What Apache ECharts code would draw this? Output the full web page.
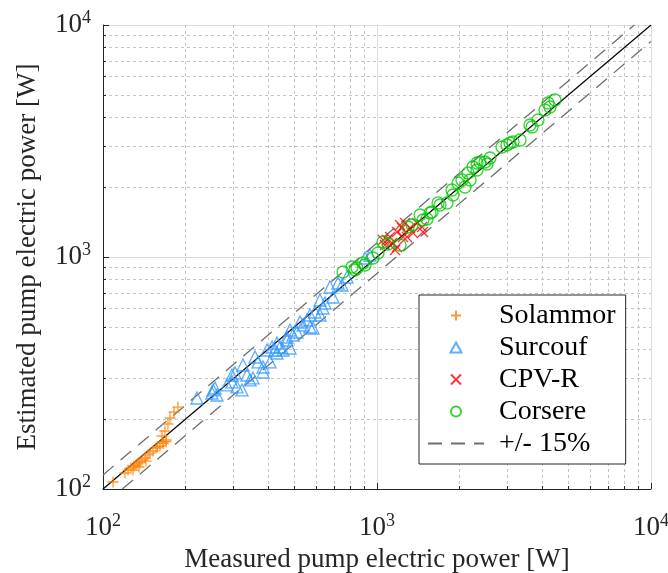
<!DOCTYPE html>
<html><head><meta charset="utf-8">
<script src="https://cdn.jsdelivr.net/npm/echarts@6/dist/echarts.min.js"></script>
<style>html,body{margin:0;padding:0;background:#fff}#c{width:668px;height:573px}</style>
</head><body><div id="c"></div>
<script>
const solammor = [[108.8,107.2],[120.3,117.2],[123.4,120.7],[126.5,123.2],[129.8,125.6],[132.0,126.9],[134.2,129.4],[136.5,130.7],[138.8,133.4],[142.3,136.0],[145.9,140.2],[148.4,142.9],[152.2,145.8],[156.1,150.2],[161.4,153.2],[165.6,159.4],[169.8,162.6],[164.2,169.2],[168.3,177.8],[172.6,190.6],[175.6,202.3],[181.6,214.7],[187.8,225.6],[128.7,120.7],[135.3,124.4],[143.5,132.0],[158,152],[166,157],[170,160]];
const surcouf = [[220.3,246.7],[249.9,259.3],[256.3,272.5],[260.6,254.2],[252.0,267.2],[283.6,280.8],[295.7,289.3],[308.4,275.3],[321.6,267.2],[303.3,316.2],[295.7,310.0],[324.3,342.3],[335.4,310.0],[344.0,295.1],[352.8,301.0],[358.8,370.7],[368.0,352.8],[383.8,335.6],[383.8,319.4],[407.0,352.8],[396.9,397.3],[413.9,409.4],[424.5,397.3],[431.5,426.0],[442.6,409.4],[453.9,397.3],[481.4,405.3],[431.5,385.7],[469.4,452.1],[481.4,484.5],[493.7,461.1],[510.5,475.0],[469.4,438.8],[523.6,524.6],[537.0,509.2],[555.3,535.1],[569.5,499.2],[584.0,494.3],[569.5,562.3],[593.9,579.4],[619.4,562.3],[635.2,602.9],[619.4,652.7],[646.0,633.6],[691.0,672.3],[673.8,742.4],[745.3,757.4],[720.7,772.6],[777.3,820.0],[904.2,990],[943.0,1020]];
const cpvr = [[1069.5,1126.6],[1087.7,1183.8],[1115.5,1219.5],[1134.4,1149.2],[1163.3,1072.0],[1183.0,1104.5],[1183.0,1281.6],[1213.3,1373.8],[1233.8,1333.5],[1244.2,1219.5],[1265.3,1401.6],[1286.7,1219.5],[1319.6,1333.5],[1353.4,1268.8],[1399.6,1401.6],[1459.7,1346.8],[1472.1,1281.6],[1051.7,1183.8]];
const corsere = [[751.5,861.6],[810.5,905.6],[831.2,879.0],[845.3,896.7],[889.1,942.2],[904.2,923.7],[966.9,990.1],[1008.4,1040.4],[1051.7,1160.8],[1096.8,1137.6],[1213.3,1126.6],[1297.6,1346.8],[1342.0,1373.8],[1435.6,1517.1],[1472.1,1443.6],[1522.5,1458.0],[1561.3,1547.8],[1587.8,1563.2],[1670.0,1709.7],[1698.3,1675.8],[1801.2,1709.7],[1878.4,1944.8],[1894.2,1850.3],[1975.6,2084.5],[2043.2,2147.4],[2095.5,2003.3],[2148.8,2301.6],[2185.3,2147.4],[2241.2,2443.2],[2317.4,2542.5],[2317.4,2371.4],[2376.5,2567.8],[2478.7,2567.8],[2520.7,2517.5],[2584.9,2671.2],[2859.0,2979.7],[2982.1,3039.7],[3057.9,3100.4],[3136.3,3131.3],[3325.6,3194.1],[3617.6,3706.8],[3679.0,3633.3],[3869.2,3895.3],[4103.2,4301.3],[4208.3,4610.7],[4279.7,4432.6],[4463.0,4750.2]];
const refLine = [[100,100],[10000,10000]];
const upperLine = [[100,115],[8696,10000]];
const lowerLine = [[117.6,100],[10000,8500]];
const axisMin = 100, axisMax = 10000;
const names = ['Solammor','Surcouf','CPV-R','Corsere','+/- 15%'];
const xTitle = 'Measured pump electric power [W]';
const yTitle = 'Estimated pump electric power [W]';

const FONT = 'Liberation Serif';
const rich = {
  b:{fontFamily:FONT,fontSize:27,color:'#262626',lineHeight:32},
  s:{fontFamily:FONT,fontSize:18,color:'#262626',verticalAlign:'top',lineHeight:18}
};
function fmt(v){ const e = Math.round(Math.log10(v)); return '{b|10}{s|' + e + '}'; }
function axis(extra){
  return Object.assign({
    type:'log', logBase:10, min:axisMin, max:axisMax,
    axisLine:{show:true,onZero:false,lineStyle:{color:'#262626',width:1}},
    axisTick:{show:true,inside:true,length:6,lineStyle:{color:'#262626'}},
    minorTick:{show:true,splitNumber:9,length:3,lineStyle:{color:'#262626'}},
    splitLine:{show:true,lineStyle:{color:'#dcdcdc',width:1}},
    minorSplitLine:{show:true,lineStyle:{color:'#c4c4c4',width:1,type:[3,3]}},
    nameLocation:'middle',
    nameTextStyle:{fontFamily:FONT,fontSize:27,color:'#262626'}
  }, extra);
}
const crossPath = 'path://M0,-5L0,5M-5,0L5,0';
const xPath = 'path://M-5,-5L5,5M-5,5L5,-5';
const triPath = 'path://M0,-5L5,4L-5,4Z';
const chart = echarts.init(document.getElementById('c'));
chart.setOption({
  animation:false,
  backgroundColor:'#fff',
  grid:{left:103,right:17,top:25,bottom:84,containLabel:false,outerBoundsMode:'none'},
  xAxis: axis({name:xTitle,nameGap:57,axisLabel:{formatter:fmt,rich:rich,margin:23}}),
  yAxis: axis({name:yTitle,nameGap:62,axisLabel:{formatter:fmt,rich:rich,margin:12}}),
  legend:{
    data:[
      {name:'Solammor'},
      {name:'Surcouf',icon:triPath},
      {name:'CPV-R'},
      {name:'Corsere'},
      {name:'+/- 15%'}
    ],
    orient:'vertical', left:419, top:295, symbolKeepAspect:true,
    backgroundColor:'#fff', borderColor:'#262626', borderWidth:1,
    padding:[6,10,6,8], itemWidth:56, itemHeight:10, itemGap:3,
    textStyle:{fontFamily:FONT,fontSize:28,color:'#000',lineHeight:29,padding:[0,0,0,10]}
  },
  series:[
    {name:'y=x',type:'line',data:refLine,symbol:'none',lineStyle:{color:'#000',width:1.2},z:1,silent:true},
    {name:'+/- 15%',type:'line',data:upperLine,symbol:'none',itemStyle:{color:'rgba(0,0,0,0)'},lineStyle:{color:'#6e6e6e',width:1.3,type:[14,9]},z:1},
    {name:'+/- 15%',type:'line',data:lowerLine,symbol:'none',itemStyle:{color:'rgba(0,0,0,0)'},lineStyle:{color:'#6e6e6e',width:1.3,type:[14,9]},z:1},
    {name:'Solammor',type:'scatter',data:solammor,symbol:crossPath,symbolSize:11,symbolKeepAspect:true,itemStyle:{color:'rgba(0,0,0,0)',borderColor:'#ff8000',borderWidth:1.3},z:3},
    {name:'Surcouf',type:'scatter',data:surcouf,symbol:'triangle',symbolSize:12,itemStyle:{color:'rgba(0,0,0,0)',borderColor:'#3399ff',borderWidth:1.3},z:3},
    {name:'CPV-R',type:'scatter',data:cpvr,symbol:xPath,symbolSize:10,symbolKeepAspect:true,itemStyle:{color:'rgba(0,0,0,0)',borderColor:'#ff0000',borderWidth:1.3},z:3},
    {name:'Corsere',type:'scatter',data:corsere,symbol:'circle',symbolSize:12,itemStyle:{color:'rgba(0,0,0,0)',borderColor:'#00c800',borderWidth:1.3},z:3}
  ]
});
</script></body></html>
